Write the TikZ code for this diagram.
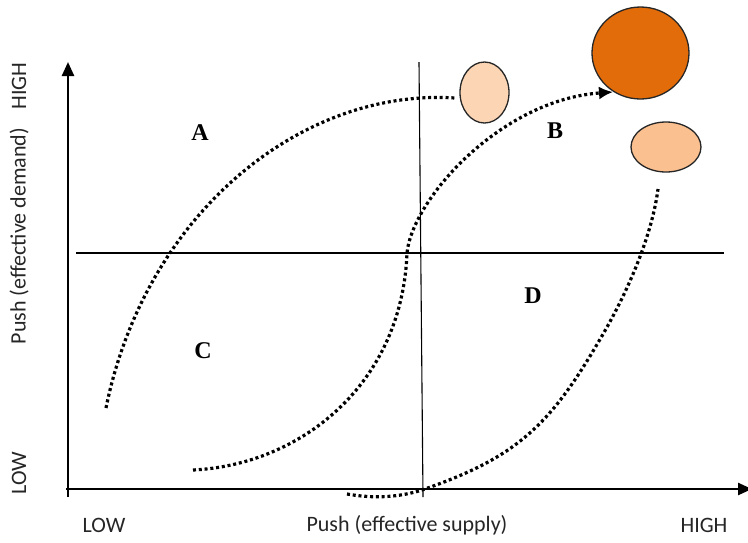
\documentclass[tikz,border=0pt]{standalone}
\usepackage{fontspec}
\setmainfont{Carlito}
\newfontfamily\letterfont{Liberation Serif}
\usetikzlibrary{arrows.meta,shapes.geometric}
\definecolor{peachlight}{HTML}{FCD5B5}
\definecolor{peachmid}{HTML}{FAC090}
\definecolor{orangedark}{HTML}{E36C0A}
\begin{document}
\begin{tikzpicture}[x=1pt,y=-1pt,
  axisline/.style={line width=2.4pt,-{Triangle[length=14pt,width=12pt]}},
  quadline/.style={line width=1.1pt},
  dotcurve/.style={line width=3.2pt,dash pattern=on 3pt off 2.8pt},
  blob/.style={ellipse,draw=black!85,line width=1.3pt,inner sep=0pt},
  axlabel/.style={font=\fontsize{22}{24}\selectfont,text=black!85,inner sep=0pt},
  quadlabel/.style={font=\letterfont\bfseries\fontsize{24}{26}\selectfont,inner sep=0pt}]
\useasboundingbox[fill=white] (0,0) rectangle (748,542);

% quadrant lines
\coordinate (hl) at (76,253);
\coordinate (hr) at (724,253);
\coordinate (vt) at (419,62);
\coordinate (vb) at (423,497);
\draw[quadline] (hl) -- (hr);
\draw[quadline] (vt) -- (vb);

% axes
\coordinate (o1) at (68,497);
\coordinate (ytip) at (68,62);
\coordinate (o2) at (66,489);
\coordinate (xtip) at (752,489);
\draw[axisline] (o1) -- (ytip);
\draw[axisline] (o2) -- (xtip);

% ellipses
\node[blob,fill=peachlight,minimum width=49pt,minimum height=61pt] (e1) at (484.5,92.5) {};
\node[blob,fill=orangedark,minimum width=97pt,minimum height=92pt] (e2) at (640.5,53) {};
\node[blob,fill=peachmid,minimum width=70pt,minimum height=50pt] (e3) at (666,147) {};

% curve A
\coordinate (a0) at (106,408);
\coordinate (a1) at (455,98);
\draw[dotcurve] (a0) .. controls (145,215) and (300,88) .. (a1);

% curve C -> B
\coordinate (s0) at (193,470);
\coordinate (sm) at (407,253);
\coordinate (s1) at (613,92);
\draw[dotcurve,-{Latex[length=14pt,width=13pt]}] (s0) .. controls (300,465) and (402,385) .. (sm)
  .. controls (412,200) and (500,100) .. (s1);

% curve D
\coordinate (d0) at (347,494);
\coordinate (dm) at (422,490);
\coordinate (dn) at (599,341);
\coordinate (d1) at (658,189);
\draw[dotcurve] (d0) .. controls (375,499) and (400,497) .. (dm)
  .. controls (515,458) and (549,427) .. (dn)
  .. controls (627,294) and (652,236) .. (d1);

% quadrant labels
\node[quadlabel] (qa) at (200,133) {A};
\node[quadlabel] (qb) at (555,131) {B};
\node[quadlabel] (qc) at (203,351) {C};
\node[quadlabel] (qd) at (533,296) {D};

% axis labels
\node[axlabel] (xlow) at (104,525) {LOW};
\node[axlabel] (xname) at (407,525) {Push (effective supply)};
\node[axlabel] (xhigh) at (704,525) {HIGH};
\node[axlabel,rotate=90] (ylow) at (19,473) {LOW};
\node[axlabel,rotate=90] (yname) at (19,236) {Push (effective demand)};
\node[axlabel,rotate=90] (yhigh) at (19,86) {HIGH};
\end{tikzpicture}
\end{document}
